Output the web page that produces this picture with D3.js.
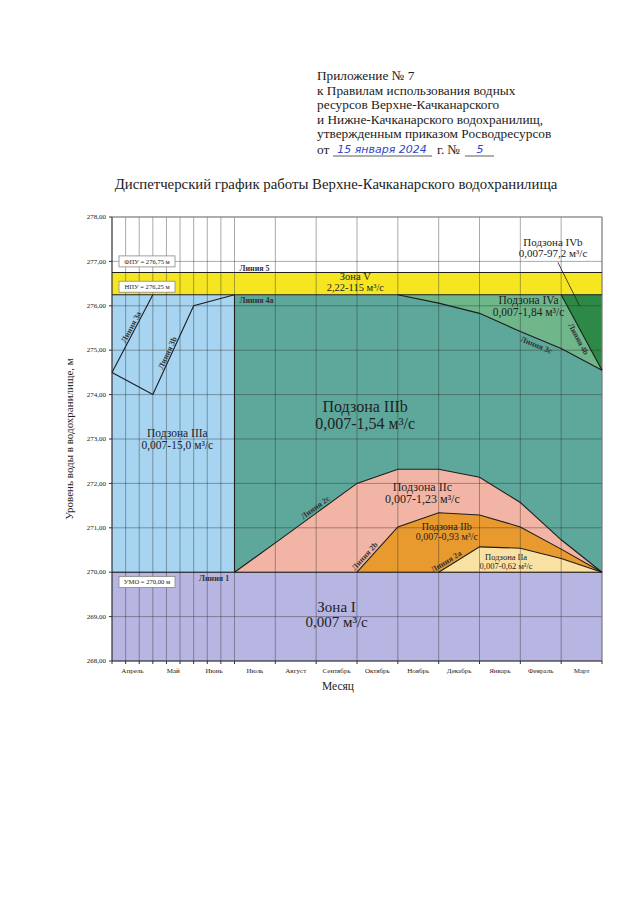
<!DOCTYPE html>
<html>
<head>
<meta charset="utf-8">
<script src="https://cdn.jsdelivr.net/npm/d3@7/dist/d3.min.js"></script>
<style>
body { margin: 0; background: #fff; }
text { font-family: "Liberation Serif", "Times New Roman", serif; fill: #222; }
</style>
</head>
<body>
<div id="chart"></div>
<script>
// months, x = 0 is 1 April
var months = ["Апрель", "Май", "Июнь", "Июль", "Август", "Сентябрь", "Октябрь", "Ноябрь", "Декабрь", "Январь", "Февраль", "Март"];
var yTicks = [268, 269, 270, 271, 272, 273, 274, 275, 276, 277, 278];

var levelFPU = 276.75;
var levelNPU = 276.25;
var levelUMO = 270.0;

// dispatch lines: [month index, level]
var line2c = [[3, 270.0], [4, 270.66], [5, 271.33], [6, 272.0], [7, 272.32], [8, 272.32], [9, 272.14], [10, 271.57], [11, 270.73], [12, 270.0]];
var line2b = [[6, 270.0], [7, 271.02], [8, 271.34], [9, 271.29], [10, 271.02], [11, 270.52], [12, 270.0]];
var line2a = [[8, 270.0], [9, 270.57], [10, 270.54], [11, 270.31], [12, 270.0]];
var line3a = [[0, 274.5], [1, 276.25]];
var line3b = [[0, 274.5], [1, 274.0], [2, 276.0], [3, 276.25]];
var line3c = [[7, 276.25], [8, 276.06], [9, 275.83], [10, 275.42], [11, 275.04], [12, 274.55]];
var line4b = [[11, 276.25], [12, 274.55]];

var headerLines = [
	"Приложение № 7",
	"к Правилам использования водных",
	"ресурсов Верхне-Качканарского",
	"и Нижне-Качканарского водохранилищ,",
	"утвержденным приказом Росводресурсов"
];

var colors = {
	zone1: "#b7b5e2",
	zone3a: "#a6d4f1",
	zone3b: "#5ea79b",
	zone5: "#f6e622",
	zone2c: "#f2b5a5",
	zone2b: "#e99a2e",
	zone2a: "#f9e1a3",
	zone4a: "#6fb68a",
	zone4b: "#2c8a46"
};

var svg = d3.select("#chart").append("svg")
	.attr("width", 640)
	.attr("height", 905);

var x = d3.scaleLinear().domain([0, 12]).range([112, 602]);
var y = d3.scaleLinear().domain([268, 278]).range([661, 217]);

// header
var header = svg.append("g").style("font-size", "13.3px");
headerLines.forEach(function (t, i) {
	header.append("text")
		.attr("x", 317)
		.attr("y", 80 + i * 14.6)
		.text(t);
});
var lastY = 81 + 5 * 14.6;
header.append("text").attr("x", 317).attr("y", lastY).text("от");
header.append("line").attr("x1", 333).attr("x2", 432).attr("y1", lastY + 2).attr("y2", lastY + 2).style("stroke", "#333").style("stroke-width", 0.8);
header.append("text").attr("x", 382).attr("y", lastY - 1)
	.attr("text-anchor", "middle")
	.style("font-family", "DejaVu Sans")
	.style("font-style", "italic")
	.style("font-size", "11px")
	.style("fill", "#3545c8")
	.text("15 января 2024");
header.append("text").attr("x", 437).attr("y", lastY).text("г. №");
header.append("line").attr("x1", 465).attr("x2", 494).attr("y1", lastY + 2).attr("y2", lastY + 2).style("stroke", "#333").style("stroke-width", 0.8);
header.append("text").attr("x", 480).attr("y", lastY - 1)
	.attr("text-anchor", "middle")
	.style("font-family", "DejaVu Sans")
	.style("font-style", "italic")
	.style("font-size", "11px")
	.style("fill", "#3545c8")
	.text("5");

svg.append("text")
	.attr("x", 336)
	.attr("y", 189)
	.attr("text-anchor", "middle")
	.style("font-size", "14.8px")
	.text("Диспетчерский график работы Верхне-Качканарского водохранилища");

// zones
function rectZone(x0, x1, y0, y1, color) {
	svg.append("rect")
		.attr("x", x(x0))
		.attr("y", y(y1))
		.attr("width", x(x1) - x(x0))
		.attr("height", y(y0) - y(y1))
		.style("fill", color);
}

function areaZone(points, base, color) {
	var area = d3.area()
		.x(function (d) { return x(d[0]); })
		.y0(y(base))
		.y1(function (d) { return y(d[1]); });
	svg.append("path").datum(points).attr("d", area).style("fill", color);
}

rectZone(0, 12, 268, levelUMO, colors.zone1);
rectZone(0, 3, levelUMO, levelNPU, colors.zone3a);
rectZone(3, 12, levelUMO, levelNPU, colors.zone3b);
rectZone(0, 12, levelNPU, levelFPU, colors.zone5);
areaZone(line2c, levelUMO, colors.zone2c);
areaZone(line2b, levelUMO, colors.zone2b);
areaZone(line2a, levelUMO, colors.zone2a);
areaZone(line3c, levelNPU, colors.zone4a);
areaZone(line4b, levelNPU, colors.zone4b);

// grid
var xGrid = d3.range(0, 3, 1 / 3).concat(d3.range(3, 13));
var grid = svg.append("g")
	.style("stroke", "#2a2a2a")
	.style("stroke-opacity", 0.5)
	.style("stroke-width", 0.8);

grid.selectAll(".vgrid")
	.data(xGrid)
	.enter().append("line")
	.attr("x1", function (d) { return x(d); })
	.attr("x2", function (d) { return x(d); })
	.attr("y1", y(268))
	.attr("y2", y(278));

grid.selectAll(".hgrid")
	.data(yTicks)
	.enter().append("line")
	.attr("x1", x(0))
	.attr("x2", x(12))
	.attr("y1", function (d) { return y(d); })
	.attr("y2", function (d) { return y(d); });

// axes
var axes = svg.append("g").style("stroke", "#333").style("stroke-width", 1);
axes.append("line").attr("x1", x(0)).attr("x2", x(0)).attr("y1", y(268)).attr("y2", y(278));
axes.append("line").attr("x1", x(0)).attr("x2", x(12)).attr("y1", y(268)).attr("y2", y(268));
axes.append("line").attr("x1", x(0)).attr("x2", x(12)).attr("y1", y(278)).attr("y2", y(278)).style("stroke", "#888");
axes.append("line").attr("x1", x(12)).attr("x2", x(12)).attr("y1", y(268)).attr("y2", y(278)).style("stroke", "#888");

axes.selectAll(".ytick")
	.data(yTicks)
	.enter().append("line")
	.attr("x1", x(0) - 3).attr("x2", x(0))
	.attr("y1", function (d) { return y(d); })
	.attr("y2", function (d) { return y(d); });

axes.selectAll(".xtick")
	.data(xGrid)
	.enter().append("line")
	.attr("x1", function (d) { return x(d); })
	.attr("x2", function (d) { return x(d); })
	.attr("y1", y(268)).attr("y2", y(268) + 3);

svg.selectAll(".ylabel")
	.data(yTicks)
	.enter().append("text")
	.attr("x", x(0) - 6)
	.attr("y", function (d) { return y(d); })
	.attr("dy", "0.32em")
	.attr("text-anchor", "end")
	.style("font-size", "7px")
	.text(function (d) { return d.toFixed(2).replace(".", ","); });

svg.selectAll(".mlabel")
	.data(months)
	.enter().append("text")
	.attr("x", function (d, i) { return x(i + 0.5); })
	.attr("y", y(268) + 12)
	.attr("text-anchor", "middle")
	.style("font-size", "7px")
	.text(function (d) { return d; });

svg.append("text")
	.attr("x", 338)
	.attr("y", 690)
	.attr("text-anchor", "middle")
	.style("font-size", "11.5px")
	.text("Месяц");

svg.append("text")
	.attr("transform", "translate(73," + (y(273)) + ")rotate(-90)")
	.attr("text-anchor", "middle")
	.style("font-size", "11px")
	.text("Уровень воды в водохранилище, м");

// boundary lines
var lineGen = d3.line()
	.x(function (d) { return x(d[0]); })
	.y(function (d) { return y(d[1]); });

var bounds = svg.append("g").style("fill", "none").style("stroke", "#1e1e1e").style("stroke-width", 1.1);
[line2c, line2b, line2a, line3a, line3b, line3c, line4b].forEach(function (l) {
	bounds.append("path").datum(l).attr("d", lineGen);
});
bounds.append("path").datum([[0, levelFPU], [12, levelFPU]]).attr("d", lineGen);
bounds.append("path").datum([[0, levelNPU], [12, levelNPU]]).attr("d", lineGen);
bounds.append("path").datum([[0, levelUMO], [12, levelUMO]]).attr("d", lineGen);
bounds.append("path").datum([[3, levelUMO], [3, levelNPU]]).attr("d", lineGen);
// leader for IVb label
bounds.append("path").datum([[10.92, 276.98], [11.45, 276.0]]).attr("d", lineGen).style("stroke-width", 0.8);

// labels along lines
function lineLabel(points, seg, t, label, dy) {
	var p0 = points[seg], p1 = points[seg + 1];
	var x0 = x(p0[0]), y0 = y(p0[1]), x1 = x(p1[0]), y1 = y(p1[1]);
	var px = x0 + (x1 - x0) * t, py = y0 + (y1 - y0) * t;
	var angle = Math.atan2(y1 - y0, x1 - x0) * 180 / Math.PI;
	svg.append("text")
		.attr("transform", "translate(" + px + "," + py + ")rotate(" + angle + ")")
		.attr("y", dy)
		.attr("text-anchor", "middle")
		.style("font-size", "8px")
		.style("font-weight", "bold")
		.style("fill", "#333")
		.text(label);
}

lineLabel(line2c, 2, 0.05, "Линия 2с", -2.5);
lineLabel(line2b, 0, 0.28, "Линия 2b", -2.5);
lineLabel(line2a, 0, 0.25, "Линия 2а", -2.5);
lineLabel(line3c, 3, 0.45, "Линия 3с", 9);
lineLabel(line4b, 0, 0.55, "Линия 4b", 8.5);
lineLabel(line3a, 0, 0.56, "Линия 3а", -1.5);
lineLabel(line3b, 1, 0.45, "Линия 3b", -1.5);

function plainLabel(px, py, label, anchor) {
	svg.append("text")
		.attr("x", px).attr("y", py)
		.attr("text-anchor", anchor)
		.style("font-size", "8px")
		.style("font-weight", "bold")
		.style("fill", "#333")
		.text(label);
}
plainLabel(x(3) + 5, y(levelFPU) - 2, "Линия 5", "start");
plainLabel(x(3) + 5, y(levelNPU) + 8.5, "Линия 4а", "start");
plainLabel(x(2.5), y(levelUMO) + 9, "Линия 1", "middle");

// level boxes
function levelBox(level, centerY, label) {
	var g = svg.append("g");
	g.append("rect")
		.attr("x", x(0) + 7)
		.attr("y", centerY - 5.5)
		.attr("width", 56)
		.attr("height", 11)
		.style("fill", "#fff")
		.style("stroke", "#888")
		.style("stroke-width", 0.8);
	g.append("text")
		.attr("x", x(0) + 35)
		.attr("y", centerY)
		.attr("dy", "0.34em")
		.attr("text-anchor", "middle")
		.style("font-size", "6.6px")
		.text(label + " = " + level.toFixed(2).replace(".", ",") + " м");
}
levelBox(levelFPU, y(277.0), "ФПУ");
levelBox(levelNPU, y(276.43), "НПУ");
levelBox(levelUMO, y(269.78), "УМО");

// zone captions
function zoneLabel(cx, cy, lines, size, gap) {
	lines.forEach(function (t, i) {
		svg.append("text")
			.attr("x", x(cx))
			.attr("y", y(cy) + i * gap)
			.attr("text-anchor", "middle")
			.style("font-size", size + "px")
			.text(t);
	});
}
zoneLabel(5.5, 269.1, ["Зона I", "0,007 м³/с"], 15, 15);
zoneLabel(1.6, 273.05, ["Подзона IIIa", "0,007-15,0 м³/с"], 11.5, 12);
zoneLabel(6.2, 273.6, ["Подзона IIIb", "0,007-1,54 м³/с"], 16, 16.5);
zoneLabel(7.6, 271.84, ["Подзона IIc", "0,007-1,23 м³/с"], 12, 12.5);
zoneLabel(8.2, 270.96, ["Подзона IIb", "0,007-0,93 м³/с"], 10, 10.5);
zoneLabel(9.65, 270.28, ["Подзона IIa", "0,007-0,62 м³/с"], 8.5, 8.8);
zoneLabel(5.96, 276.58, ["Зона V", "2,22-115 м³/с"], 10.5, 11);
zoneLabel(10.2, 276.05, ["Подзона IVa", "0,007-1,84 м³/с"], 11.5, 12);
zoneLabel(10.8, 277.34, ["Подзона IVb", "0,007-97,2 м³/с"], 11, 11);
</script>
</body>
</html>
